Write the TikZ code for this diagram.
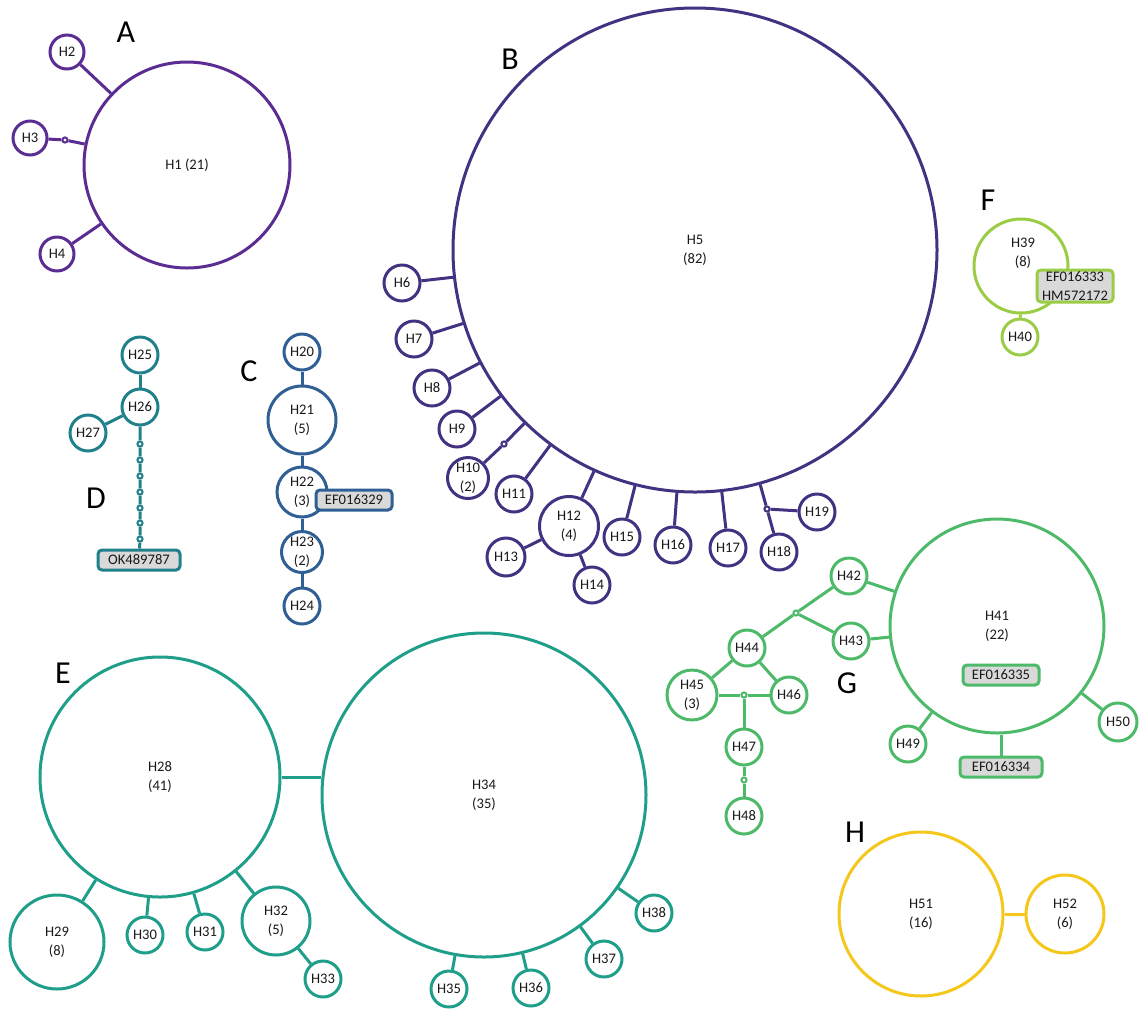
\documentclass[tikz,border=0pt]{standalone}
\usepackage{fontspec}
\setmainfont{Carlito}
\definecolor{cA}{HTML}{5B2C92}
\definecolor{cB}{HTML}{433181}
\definecolor{cC}{HTML}{2F5F94}
\definecolor{cD}{HTML}{21818B}
\definecolor{cE}{HTML}{1F9E89}
\definecolor{cF}{HTML}{9ACD45}
\definecolor{cG}{HTML}{4DBA6A}
\definecolor{cH}{HTML}{F5C71A}
\definecolor{boxfill}{HTML}{D9D9D9}
\newcommand\hapfont{\fontsize{7.3}{9.4}\selectfont}
\newcommand\grpfont{\fontsize{16}{16}\selectfont}
\begin{document}
\begin{tikzpicture}[x=0.5pt,y=-0.5pt,
  % haplotype circle: colour, radius in px (diameter = radius pt)
  hap/.style 2 args={circle,draw=#1,line width=1.5pt,fill=white,inner sep=0pt,
    minimum size=#2pt,align=center,font=\hapfont,text=black!90},
  % median vector (missing haplotype)
  mv/.style={circle,draw=#1,line width=1pt,fill=white,inner sep=0pt,minimum size=2.6pt},
  % reference sequence label box
  seqbox/.style={draw=#1,fill=boxfill,line width=1.5pt,rounded corners=2pt,inner sep=0pt,
    minimum height=10pt,minimum width=38pt,align=center,font=\hapfont,text=black!90},
  lk/.style={draw=#1,line width=1.5pt},
  grp/.style={font=\grpfont,inner sep=0pt,text=black}]
\useasboundingbox (0,0) rectangle (1141,1008);

% ---------- group A ----------
\node[hap={cA}{103}] (H1) at (187,165) {H1 (21)};
\node[hap={cA}{17}] (H2) at (67,52) {H2};
\node[hap={cA}{17}] (H3) at (30,138) {H3};
\node[hap={cA}{17}] (H4) at (57,254) {H4};
\node[mv=cA] (m3) at (65,140) {};
\draw[lk=cA] (H2) -- (H1);
\draw[lk=cA] (H3) -- (m3) -- (H1);
\draw[lk=cA] (H4) -- (H1);
\node[grp] (lA) at (126,32) {A};

% ---------- group B ----------
\node[hap={cB}{242}] (H5) at (695,250) {H5\\(82)};
\node[hap={cB}{18}] (H6) at (402,283) {H6};
\node[hap={cB}{18}] (H7) at (414,339) {H7};
\node[hap={cB}{18}] (H8) at (432,388) {H8};
\node[hap={cB}{18}] (H9) at (457,429) {H9};
\node[hap={cB}{20.5}] (H10) at (468,478) {H10\\(2)};
\node[mv=cB] (m10) at (504,444) {};
\node[hap={cB}{18}] (H11) at (514,494) {H11};
\node[hap={cB}{29.5}] (H12) at (569,526) {H12\\(4)};
\node[hap={cB}{19}] (H13) at (506,557) {H13};
\node[hap={cB}{18}] (H14) at (592,585) {H14};
\node[hap={cB}{18}] (H15) at (622,537) {H15};
\node[hap={cB}{18}] (H16) at (673,545) {H16};
\node[hap={cB}{18}] (H17) at (728,548) {H17};
\node[hap={cB}{18}] (H18) at (779,552) {H18};
\node[mv=cB] (m18) at (767,509) {};
\node[hap={cB}{18}] (H19) at (817,512) {H19};
\foreach \s in {H6,H7,H8,H9,H11,H12,H15,H16,H17}
  \draw[lk=cB] (\s) -- (H5);
\draw[lk=cB] (H10) -- (m10) -- (H5);
\draw[lk=cB] (H12) -- (H13);
\draw[lk=cB] (H12) -- (H14);
\draw[lk=cB] (H18) -- (m18) -- (H5);
\draw[lk=cB] (m18) -- (H19);
\node[grp] (lB) at (510,59) {B};

% ---------- group C ----------
\node[hap={cC}{18}] (H20) at (302,352) {H20};
\node[hap={cC}{34}] (H21) at (302,420) {H21\\(5)};
\node[hap={cC}{25}] (H22) at (302,492) {H22\\(3)};
\node[hap={cC}{20.5}] (H23) at (302,552) {H23\\(2)};
\node[hap={cC}{18}] (H24) at (302,606) {H24};
\draw[lk=cC] (H20) -- (H21);
\draw[lk=cC] (H21) -- (H22);
\draw[lk=cC] (H22) -- (H23);
\draw[lk=cC] (H23) -- (H24);
\node[seqbox=cC] (sC) at (354,500) {EF016329};
\node[grp] (lC) at (249,371) {C};

% ---------- group D ----------
\node[hap={cD}{18}] (H25) at (140,355) {H25};
\node[hap={cD}{18}] (H26) at (140,407) {H26};
\node[hap={cD}{18}] (H27) at (88,433) {H27};
\draw[lk=cD] (H25) -- (H26);
\draw[lk=cD] (H26) -- (H27);
\node[seqbox=cD,minimum width=41pt] (sD) at (139,560) {OK489787};
\foreach \i/\yy in {1/444,2/460,3/476,4/492,5/508,6/523,7/539}
  \node[mv=cD] (d\i) at (140,\yy) {};
\draw[lk=cD] (H26) -- (d1) -- (d2) -- (d3) -- (d4) -- (d5) -- (d6) -- (d7) -- (sD);
\node[grp] (lD) at (96,498) {D};

% ---------- group E ----------
\node[hap={cE}{120}] (H28) at (160,777) {H28\\(41)};
\node[hap={cE}{162}] (H34) at (484,795) {H34\\(35)};
\node[hap={cE}{47}] (H29) at (57,942) {H29\\(8)};
\node[hap={cE}{18}] (H30) at (145,935) {H30};
\node[hap={cE}{18}] (H31) at (205,932) {H31};
\node[hap={cE}{34}] (H32) at (276,921) {H32\\(5)};
\node[hap={cE}{18}] (H33) at (323,979) {H33};
\node[hap={cE}{18}] (H35) at (449,989) {H35};
\node[hap={cE}{18}] (H36) at (531,988) {H36};
\node[hap={cE}{18}] (H37) at (604,959) {H37};
\node[hap={cE}{18}] (H38) at (654,913) {H38};
\draw[lk=cE] (H28.east) -- (H34.west |- H28.east);
\foreach \s in {H29,H30,H31,H32}
  \draw[lk=cE] (\s) -- (H28);
\draw[lk=cE] (H32) -- (H33);
\foreach \s in {H35,H36,H37,H38}
  \draw[lk=cE] (\s) -- (H34);
\node[grp] (lE) at (63,673) {E};

% ---------- group F ----------
\node[hap={cF}{47}] (H39) at (1021,266) {};
\node[font=\hapfont,align=center,text=black!90,inner sep=0pt] (H39t) at (1023,253) {H39\\(8)};
\node[hap={cF}{18}] (H40) at (1020,337) {H40};
\draw[lk=cF] (H40) -- (H39);
\node[seqbox=cF,minimum height=16pt] (sF) at (1075,286) {EF016333\\HM572172};
\node[grp] (lF) at (988,200) {F};

% ---------- group G ----------
\node[hap={cG}{107}] (H41) at (997,626) {H41\\(22)};
\node[seqbox=cG] (sG1) at (1001,675) {EF016335};
\node[seqbox=cG,minimum width=41pt] (sG2) at (1001,767) {EF016334};
\node[hap={cG}{18}] (H42) at (849,576) {H42};
\node[mv=cG] (mg1) at (796,613) {};
\node[hap={cG}{18}] (H43) at (851,641) {H43};
\node[hap={cG}{18}] (H44) at (747,648) {H44};
\node[hap={cG}{25}] (H45) at (692,695) {H45\\(3)};
\node[hap={cG}{18}] (H46) at (789,695) {H46};
\node[mv=cG] (mg2) at (744,695) {};
\node[hap={cG}{18}] (H47) at (744,747) {H47};
\node[mv=cG] (mg3) at (744,780) {};
\node[hap={cG}{18}] (H48) at (744,816) {H48};
\node[hap={cG}{18}] (H49) at (908,744) {H49};
\node[hap={cG}{19}] (H50) at (1118,722) {H50};
\draw[lk=cG] (H42) -- (H41);
\draw[lk=cG] (H43) -- (H41);
\draw[lk=cG] (H49) -- (H41);
\draw[lk=cG] (H50) -- (H41);
\draw[lk=cG] (sG2) -- (sG2.north |- H41.south);
\draw[lk=cG] (H42) -- (mg1) -- (H44);
\draw[lk=cG] (mg1) -- (H43);
\draw[lk=cG] (H44) -- (H45);
\draw[lk=cG] (H44) -- (H46);
\draw[lk=cG] (H45) -- (mg2) -- (H46);
\draw[lk=cG] (mg2) -- (H47) -- (mg3) -- (H48);
\node[grp] (lG) at (847,683) {G};

% ---------- group H ----------
\node[hap={cH}{82}] (H51) at (921,914) {H51\\(16)};
\node[hap={cH}{39}] (H52) at (1065,914) {H52\\(6)};
\draw[lk=cH] (H51) -- (H52);
\node[grp] (lH) at (855,832) {H};
\end{tikzpicture}
\end{document}
